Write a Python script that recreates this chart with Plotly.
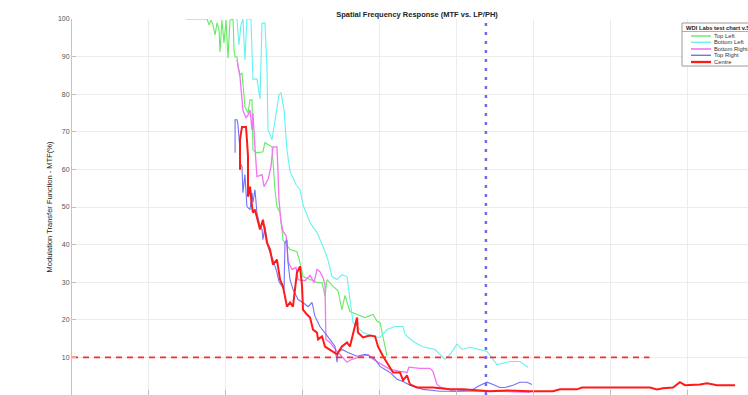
import plotly.graph_objects as go

# Spatial frequency (LP/PH) and MTF (%) for each chart region
series_names = ["Top Left", "Bottom Left", "Bottom Right", "Top Right", "Centre"]

top_left_x = [740, 877, 890, 903, 916, 929, 942, 955, 961, 974, 987, 1000, 1013, 1026, 1046, 1052,
              1059, 1072, 1078, 1091, 1104, 1110, 1123, 1143, 1156, 1169, 1175, 1201, 1240, 1253,
              1299, 1318, 1331, 1351, 1370, 1416, 1461, 1481, 1500, 1546, 1591, 1624, 1643, 1656,
              1695, 1727, 1753, 1773, 1805, 1851, 1903, 1955, 1981, 2000, 2020, 2046]
top_left_y = [100, 100, 98.4, 99.7, 98.4, 95.8, 99.0, 97.1, 91.2, 99.7, 93.6, 99.7, 89.6, 99.7, 100,
              91.8, 89.9, 89.9, 87.3, 85.1, 85.7, 81.9, 76.6, 75.0, 78.5, 78.5, 65.2, 64.4, 64.7,
              67.1, 66.0, 54.6, 50.1, 48.5, 41.3, 38.7, 38.1, 35.2, 31.5, 30.7, 29.9, 29.9, 26.2,
              30.7, 28.9, 27.8, 22.7, 26.5, 22.2, 21.4, 20.6, 21.4, 19.6, 19.3, 15.3, 10.3]

bottom_left_x = [1071, 1084, 1097, 1110, 1123, 1136, 1162, 1175, 1201, 1221, 1234, 1253, 1266, 1273,
                 1299, 1318, 1344, 1357, 1377, 1396, 1416, 1435, 1455, 1481, 1500, 1546, 1591, 1630,
                 1662, 1688, 1721, 1753, 1786, 1805, 1825, 1890, 1955, 2000, 2046, 2098, 2150, 2163,
                 2214, 2273, 2357, 2422, 2455, 2500, 2533, 2585, 2695, 2760, 2844, 2909, 2961]
bottom_left_y = [100, 93.1, 98.4, 100, 89.2, 100, 100, 84.0, 84.0, 78.7, 98.9, 98.9, 87.3, 70.5,
                 67.9, 73.2, 79.8, 80.4, 75.8, 65.2, 59.4, 57.8, 55.9, 54.6, 50.6, 45.8, 43.2, 39.5,
                 36.0, 31.5, 30.7, 32.0, 31.5, 25.4, 19.3, 16.6, 15.6, 15.3, 17.4, 18.2, 18.2, 16.1,
                 14.3, 12.9, 12.1, 9.5, 10.8, 13.5, 12.1, 12.7, 11.6, 8.1, 8.9, 8.9, 7.4]

bottom_right_x = [1072, 1091, 1110, 1130, 1143, 1156, 1169, 1175, 1188, 1201, 1234, 1247, 1273, 1292,
                  1305, 1331, 1338, 1344, 1357, 1370, 1390, 1403, 1429, 1455, 1468, 1513, 1546, 1572,
                  1591, 1610, 1630, 1643, 1649, 1675, 1727, 1786, 1818, 1890, 1922, 1955, 2000, 2065,
                  2130, 2176, 2188, 2260, 2325, 2344, 2370, 2396, 2455, 2468, 2585, 2779, 2974]
bottom_right_y = [89.1, 84.6, 75.8, 73.7, 74.5, 75.8, 70.5, 75.0, 66.0, 58.1, 58.6, 55.4, 57.3, 60.7,
                  66.0, 66.0, 59.1, 52.0, 46.1, 43.5, 42.4, 35.5, 33.4, 33.9, 30.7, 30.4, 31.8, 29.9,
                  33.4, 32.8, 31.2, 29.4, 14.8, 14.0, 11.3, 8.7, 9.5, 10.3, 10.8, 9.5, 8.4, 6.8,
                  6.3, 6.0, 7.4, 7.1, 7.1, 6.3, 2.8, 2.0, 1.5, 1.0, 1.0, 1.0, 0.7]

top_right_x = [1059, 1059, 1072, 1078, 1091, 1091, 1104, 1110, 1123, 1136, 1156, 1169, 1175, 1188,
               1201, 1221, 1234, 1240, 1253, 1273, 1286, 1305, 1331, 1344, 1364, 1377, 1383, 1396,
               1403, 1416, 1435, 1468, 1500, 1533, 1559, 1578, 1610, 1643, 1675, 1708, 1721, 1727,
               1753, 1792, 1851, 1903, 1935, 1968, 2000, 2065, 2111, 2150, 2195, 2279, 2390, 2500,
               2604, 2637, 2695, 2734, 2779, 2812, 2864, 2909, 2955, 2987]
top_right_y = [64.4, 73.2, 73.2, 71.9, 65.2, 61.8, 60.7, 53.8, 58.6, 50.1, 49.3, 53.8, 51.2, 54.6,
               48.5, 44.8, 44.0, 41.3, 44.8, 39.5, 37.9, 36.0, 32.6, 30.2, 28.9, 28.1, 40.5, 41.3,
               35.2, 30.7, 28.1, 25.4, 24.6, 23.5, 24.6, 20.9, 18.2, 16.6, 14.8, 12.9, 8.7, 11.3,
               12.1, 11.3, 10.3, 10.8, 10.3, 9.5, 7.6, 6.0, 4.2, 3.6, 2.6, 1.5, 1.0, 1.0,
               1.5, 2.3, 3.4, 2.8, 2.0, 2.0, 2.6, 3.4, 3.4, 2.8]

centre_x = [1091, 1091, 1104, 1130, 1136, 1143, 1143, 1156, 1169, 1175, 1188, 1201, 1221, 1240, 1253,
            1266, 1286, 1305, 1331, 1351, 1370, 1396, 1416, 1435, 1461, 1481, 1494, 1500, 1526, 1546,
            1565, 1591, 1598, 1624, 1643, 1675, 1721, 1753, 1786, 1805, 1825, 1851, 1857, 1890, 1916,
            1935, 1968, 1987, 2020, 2052, 2085, 2130, 2150, 2176, 2195, 2240, 2344, 2455, 2539, 2714,
            2825, 2974, 3124, 3169, 3279, 3312, 3494, 3754, 3799, 3838, 3903, 3948, 3981, 4078, 4124,
            4189, 4306]
centre_y = [59.9, 67.9, 71.3, 71.3, 67.9, 63.4, 52.7, 55.4, 50.1, 48.5, 49.3, 47.4, 44.0, 46.6, 44.0,
            40.5, 38.7, 34.7, 36.0, 30.7, 28.9, 23.5, 24.6, 23.5, 32.6, 34.2, 28.9, 22.7, 21.4, 20.6,
            17.4, 16.6, 14.8, 15.6, 12.9, 12.1, 10.8, 12.9, 14.0, 12.9, 16.6, 20.6, 16.6, 15.3, 15.6,
            15.8, 15.6, 12.9, 10.3, 8.1, 6.0, 6.0, 3.9, 5.2, 2.8, 2.0, 2.0, 1.5, 1.5, 1.0,
            1.2, 1.0, 1.0, 1.5, 1.5, 2.0, 2.0, 2.0, 1.5, 1.8, 2.0, 3.4, 2.6, 2.8, 3.1,
            2.6, 2.6]

nyquist_lpph = 2688          # vertical reference line
mtf10_level = 10             # horizontal MTF10 threshold
mtf10_x_end = 3750
x_max = 4390
y_ticks = [0, 10, 20, 30, 40, 50, 60, 70, 80, 90, 100]

xs = [top_left_x, bottom_left_x, bottom_right_x, top_right_x, centre_x]
ys = [top_left_y, bottom_left_y, bottom_right_y, top_right_y, centre_y]
colors = ["#63ec63", "#66f2f2", "#f274f2", "#7272f4", "#ff1a1a"]
widths = [1.1, 1.1, 1.3, 1.1, 2.0]

W, H = 748, 395
ML, MT = 72, 19
PW, PH = W - ML, H - MT

fig = go.Figure()
for name, x, y, c, w in zip(series_names, xs, ys, colors, widths):
    fig.add_trace(go.Scatter(x=x, y=y, mode="lines", name=name,
                             line=dict(color=c, width=w), showlegend=False))

fig.add_trace(go.Scatter(x=[0, mtf10_x_end], y=[mtf10_level, mtf10_level], mode="lines",
                         line=dict(color="#ff2a2a", width=1.8, dash="6px,5px"),
                         showlegend=False, hoverinfo="skip"))
fig.add_trace(go.Scatter(x=[nyquist_lpph, nyquist_lpph], y=[0, 100], mode="lines",
                         line=dict(color="#6a6af6", width=2.5, dash="3px,6px"),
                         showlegend=False, hoverinfo="skip"))

# compact boxed legend in the upper right corner
def px_x(p):
    return (p - ML) / PW

def px_y(p):
    return (H - p) / PH

shapes = [dict(type="rect", xref="paper", yref="paper",
               x0=px_x(682), x1=px_x(780), y0=px_y(66), y1=px_y(23),
               line=dict(color="#9a9a9a", width=1), fillcolor="white", layer="above"),
          dict(type="line", xref="paper", yref="paper",
               x0=px_x(682), x1=px_x(780), y0=px_y(31.5), y1=px_y(31.5),
               line=dict(color="#9a9a9a", width=0.8), layer="above")]
annotations = [dict(text="<b>WDI Labs test chart v.5</b>", xref="paper", yref="paper",
                    x=px_x(684), y=px_y(27.5), xanchor="left", yanchor="middle",
                    showarrow=False, font=dict(size=5.8, color="#222"))]
row_y = [36, 42.3, 49, 55.3, 62]
for name, c, w, ry in zip(series_names, colors, widths, row_y):
    shapes.append(dict(type="line", xref="paper", yref="paper",
                       x0=px_x(691), x1=px_x(711), y0=px_y(ry), y1=px_y(ry),
                       line=dict(color=c, width=w + 0.3), layer="above"))
    annotations.append(dict(text=name, xref="paper", yref="paper",
                            x=px_x(712), y=px_y(ry), xanchor="left", yanchor="middle",
                            showarrow=False, font=dict(size=5.8, color="#333")))

fig.update_layout(
    width=W, height=H,
    margin=dict(l=ML, r=0, t=MT, b=0, autoexpand=False),
    paper_bgcolor="white", plot_bgcolor="white",
    font=dict(family="Liberation Sans, Arial, sans-serif"),
    title=dict(text="<b>Spatial Frequency Response (MTF vs. LP/PH)</b>",
               x=(417 - ML) / PW, xref="paper", xanchor="center",
               y=1 - 14 / H, yref="container", yanchor="middle",
               font=dict(size=7.5, color="#222")),
    shapes=shapes, annotations=annotations,
    xaxis=dict(range=[0, x_max], tick0=0, dtick=500,
               showgrid=True, gridcolor="#ececec", gridwidth=1,
               zeroline=False, showline=False, showticklabels=False,
               ticks="inside", ticklen=5, tickcolor="#bdbdbd"),
    yaxis=dict(range=[0, 100], tickvals=y_ticks,
               showgrid=True, gridcolor="#ececec", gridwidth=1,
               zeroline=False, showline=True, linecolor="#c4c4c4", linewidth=1,
               ticks="inside", ticklen=4, tickcolor="#c0c0c0",
               tickfont=dict(size=7, color="#555"),
               title=dict(text="Modulation Transfer Function - MTF(%)",
                          font=dict(size=7.5, color="#222"), standoff=4)),
)

fig.write_html("out.html")
